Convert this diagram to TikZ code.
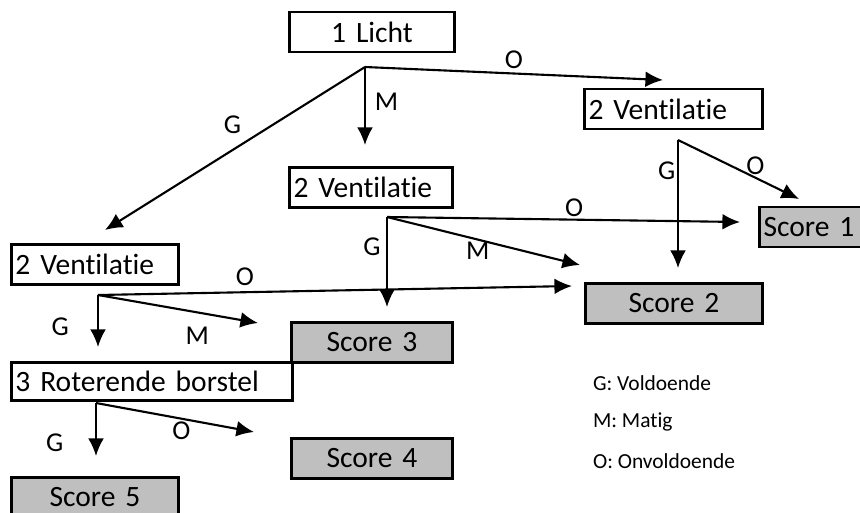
\documentclass[tikz,border=0pt]{standalone}
\usepackage{fontspec}
\setmainfont{Carlito}[Ligatures=NoCommon]
\usetikzlibrary{arrows.meta}

\begin{document}
\begin{tikzpicture}[>={Latex[length=10pt,width=9pt]},line width=1.2pt,
                    box/.style={draw,line width=1.7pt,minimum height=0.8cm,inner sep=2pt,font=\fontsize{16.8}{19}\selectfont},
                    score/.style={box,fill=black!25,align=center},
                    lbl/.style={font=\fontsize{15.5}{17}\selectfont,inner sep=2pt},
                    legend/.style={font=\fontsize{12.2}{14}\selectfont,anchor=west,inner sep=0pt}]

       \useasboundingbox (0,0) rectangle (17.2,-10.24);

       \node[box,text width=3.14cm,align=center] (licht) at (7.44,-0.64) {1 Licht};
       \node[box,text width=3.40cm,align=left] (ventR) at (13.47,-2.18) {2 Ventilatie};
       \node[box,text width=3.10cm,align=left] (ventM) at (7.42,-3.75) {2 Ventilatie};
       \node[box,text width=3.18cm,align=left] (ventL) at (1.90,-5.29) {2 Ventilatie};

       \node[score,text width=3.40cm,align=left] (score1) at (16.97,-4.54) {Score 1};
       \node[score,text width=3.38cm] (score2) at (13.48,-6.06) {Score 2};
       \node[score,text width=3.06cm] (score3) at (7.44,-6.84) {Score 3};
       \node[score,text width=3.06cm] (score4) at (7.44,-9.16) {Score 4};
       \node[score,text width=3.18cm] (score5) at (1.90,-9.94) {Score 5};

       \node[box,text width=5.46cm,align=left,minimum height=0.76cm] (rot) at (3.04,-7.62) {3 Roterende borstel};

       % branch points and arrow ends
       \coordinate (b1) at (7.30,-1.34);
       \coordinate (e1o) at (13.26,-1.60);
       \coordinate (e1m) at (7.30,-2.90);
       \coordinate (e1g) at (2.10,-4.60);
       \coordinate (b2) at (13.56,-2.80);
       \coordinate (e2g) at (13.56,-5.36);
       \coordinate (e2o) at (15.98,-3.98);
       \coordinate (b3) at (7.74,-4.34);
       \coordinate (e3g) at (7.74,-6.14);
       \coordinate (e3o) at (14.80,-4.44);
       \coordinate (e3m) at (11.60,-5.30);
       \coordinate (b4) at (1.96,-5.90);
       \coordinate (e4g) at (1.96,-6.94);
       \coordinate (e4m) at (5.16,-6.46);
       \coordinate (e4o) at (11.44,-5.72);
       \coordinate (b5) at (1.92,-8.06);
       \coordinate (e5g) at (1.92,-9.12);
       \coordinate (e5o) at (5.08,-8.64);

       \draw[->] (b1) -- node[lbl,pos=.5,above] (l1o) {O} (e1o);
       \draw[->] (b1) -- node[lbl,pos=.45,right=3pt] (l1m) {M} (e1m);
       \draw[->] (b1) -- node[lbl,pos=.51,above=7pt] (l1g) {G} (e1g);

       \draw[->] (b2) -- node[lbl,pos=.24,left=-1pt] (l2g) {G} (e2g);
       \draw[->] (b2) -- node[lbl,pos=.64,above=-1pt] (l2o) {O} (e2o);

       \draw[->] (b3) -- node[lbl,pos=.33,left=1pt] (l3g) {G} (e3g);
       \draw[->] (b3) -- node[lbl,pos=.53,above=-1pt] (l3o) {O} (e3o);
       \draw[->] (b3) -- node[lbl,pos=.47,below=-1pt] (l3m) {M} (e3m);

       \draw[->] (b4) -- node[lbl,pos=.31,above=1pt] (l4o) {O} (e4o);
       \draw[->] (b4) -- node[lbl,pos=.62,left=14pt] (l4g) {G} (e4g);
       \draw[->] (b4) -- node[lbl,pos=.62,below=6pt] (l4m) {M} (e4m);

       \draw[->] (b5) -- node[lbl,pos=.75,left=16pt] (l5g) {G} (e5g);
       \draw[->] (b5) -- node[lbl,pos=.54,below=-1pt] (l5o) {O} (e5o);

       % legend
       \node[legend] (lg) at (11.84,-7.66) {G: Voldoende};
       \node[legend] (lm) at (11.84,-8.44) {M: Matig};
       \node[legend] (lo) at (11.84,-9.22) {O: Onvoldoende};

\end{tikzpicture}
\end{document}
